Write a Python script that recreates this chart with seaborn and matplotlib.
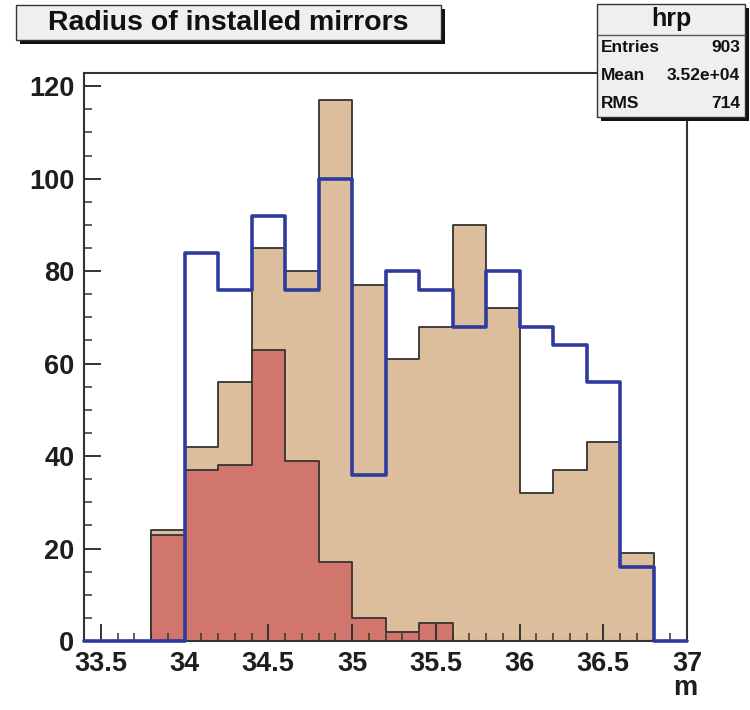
import numpy as np
import pandas as pd
import matplotlib
matplotlib.use("Agg")
import matplotlib.pyplot as plt
from matplotlib.patches import Rectangle
from matplotlib.lines import Line2D
from matplotlib.ticker import MultipleLocator
import seaborn as sns

# Bin layout: 0.2 m wide bins between 33.4 and 37.0 m
bin_edges = [round(33.4 + 0.2 * i, 2) for i in range(19)]
bin_centers = [(a + b) / 2 for a, b in zip(bin_edges[:-1], bin_edges[1:])]

# Counts per bin (18 bins, 33.4 .. 37.0)
all_mirrors = [0, 0, 24, 42, 56, 85, 80, 117, 77, 61, 68, 90, 72, 32, 37, 43, 19, 0]
subset_red = [0, 0, 23, 37, 38, 63, 39, 17, 5, 2, 4, 0, 0, 0, 0, 0, 0, 0]
reference_blue = [0, 0, 0, 84, 76, 92, 76, 100, 36, 80, 76, 68, 80, 68, 64, 56, 16, 0]

title_text = "Radius of installed mirrors"
stats_name = "hrp"
stats_rows = [("Entries", "903"), ("Mean", "3.52e+04"), ("RMS", "714")]
x_label = "m"

df = pd.DataFrame({
    "r": bin_centers,
    "all": all_mirrors,
    "red": subset_red,
    "blue": reference_blue,
})

sns.set_theme(style="white")
plt.rcParams["font.family"] = ["Liberation Sans", "DejaVu Sans"]
plt.rcParams["font.weight"] = "bold"

W, H = 750, 710
fig = plt.figure(figsize=(W / 100, H / 100), dpi=100)
fig.patch.set_facecolor("white")


def fx(px):
    return px / W


def fy(py):
    return 1 - py / H


ax = fig.add_axes([fx(84), fy(641), fx(687) - fx(84), fy(73) - fy(641)])

tan = "#dcbe9c"
red = "#d1766d"
blue = "#2e3a9e"
edge = "#333333"

sns.histplot(data=df, x="r", weights="all", bins=bin_edges, element="step",
             fill=True, color=tan, alpha=1.0, edgecolor=edge, linewidth=1.3, ax=ax)
sns.histplot(data=df, x="r", weights="red", bins=bin_edges, element="step",
             fill=True, color=red, alpha=1.0, edgecolor=edge, linewidth=1.3, ax=ax)
n_before = len(ax.lines)
sns.histplot(data=df, x="r", weights="blue", bins=bin_edges, element="step",
             fill=False, color=blue, linewidth=2.6, ax=ax)
# keep the blue outline visible along the zero line, above the frame
for art in ax.lines[n_before:] + ax.patches[-1:]:
    art.set_zorder(4)
    art.set_clip_on(False)

ax.set_xlim(33.4, 37.0)
ax.set_ylim(0, 122.85)
ax.set_xlabel("")
ax.set_ylabel("")

ax.xaxis.set_major_locator(MultipleLocator(0.5))
ax.xaxis.set_minor_locator(MultipleLocator(0.1))
ax.yaxis.set_major_locator(MultipleLocator(20))
ax.yaxis.set_minor_locator(MultipleLocator(5))
ax.tick_params(which="both", direction="in", top=False, right=False,
               bottom=True, left=True, color=edge)
ax.tick_params(which="major", length=12, width=1.4, labelsize=19.5,
               labelcolor="#1e1e1e")
ax.tick_params(which="minor", length=6, width=1.1)
ax.tick_params(axis="x", which="major", pad=7)
ax.tick_params(axis="y", which="major", pad=7)
ax.set_xticks(np.arange(33.5, 37.01, 0.5))
ax.set_xticklabels(["33.5", "34", "34.5", "35", "35.5", "36", "36.5", "37"])
for lbl in ax.get_xticklabels() + ax.get_yticklabels():
    lbl.set_fontweight("bold")
for s in ax.spines.values():
    s.set_color(edge)
    s.set_linewidth(1.5)
    s.set_visible(True)
ax.set_axisbelow(False)

fig.text(fx(685), fy(688), x_label, ha="center", va="center",
         fontsize=19.5, fontweight="bold", color="#1e1e1e")

# Title box with drop shadow
shadow = 4
box_fill = "#eef0f0"
fig.patches.append(Rectangle((fx(16 + shadow), fy(40 + shadow)), fx(441) - fx(16),
                             fy(5) - fy(40), transform=fig.transFigure,
                             facecolor="#111111", edgecolor="none", zorder=5))
fig.patches.append(Rectangle((fx(16), fy(40)), fx(441) - fx(16), fy(5) - fy(40),
                             transform=fig.transFigure, facecolor=box_fill,
                             edgecolor="#333333", linewidth=1.0, zorder=6))
fig.text(fx(228), fy(22.5), title_text, ha="center", va="center",
         fontsize=20.5, fontweight="bold", color="#111111", zorder=7)

# Statistics box with drop shadow
sx0, sx1, sy0, sy1 = 597, 745, 4, 117
fig.patches.append(Rectangle((fx(sx0 + shadow), fy(sy1 + shadow)), fx(sx1) - fx(sx0),
                             fy(sy0) - fy(sy1), transform=fig.transFigure,
                             facecolor="#111111", edgecolor="none", zorder=5))
fig.patches.append(Rectangle((fx(sx0), fy(sy1)), fx(sx1) - fx(sx0), fy(sy0) - fy(sy1),
                             transform=fig.transFigure, facecolor=box_fill,
                             edgecolor="#333333", linewidth=1.0, zorder=6))
fig.lines.append(Line2D([fx(sx0), fx(sx1)], [fy(35), fy(35)],
                        transform=fig.transFigure, color="#555555",
                        linewidth=1.0, zorder=7))
fig.text(fx(671), fy(19), stats_name, ha="center", va="center",
         fontsize=18, fontweight="bold", color="#111111", zorder=7)
for i, (k, v) in enumerate(stats_rows):
    yy = fy(48 + i * 27.5)
    fig.text(fx(601), yy, k, ha="left", va="center", fontsize=12.5,
             fontweight="bold", color="#111111", zorder=7)
    fig.text(fx(740), yy, v, ha="right", va="center", fontsize=12.5,
             fontweight="bold", color="#111111", zorder=7)

fig.savefig("out.png", dpi=100)
